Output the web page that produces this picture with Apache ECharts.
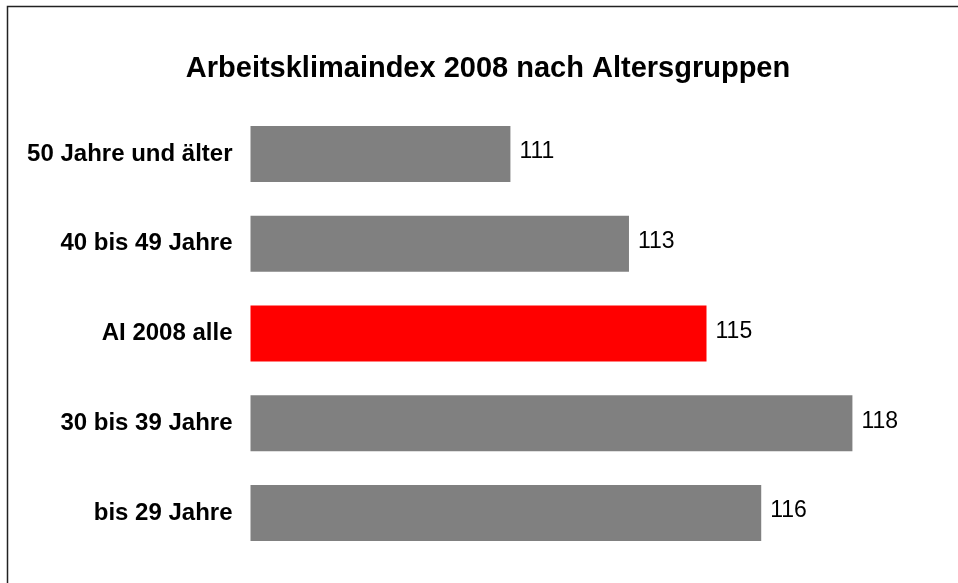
<!DOCTYPE html>
<html>
<head>
<meta charset="utf-8">
<script src="https://cdn.jsdelivr.net/npm/echarts@6/dist/echarts.min.js"></script>
<style>
  html, body { margin: 0; padding: 0; background: #fff; }
  #chart { width: 958px; height: 583px; }
</style>
</head>
<body>
<div id="chart"></div>
<script>
// top to bottom as in the picture
const groups = ['50 Jahre und älter', '40 bis 49 Jahre', 'AI 2008 alle', '30 bis 39 Jahre', 'bis 29 Jahre']
// (labels show rounded values)
const indexValues = [110.7, 113.3, 115.0, 118.2, 116.2]
const highlightGroup = 'AI 2008 alle'

const chart = echarts.init(document.getElementById('chart'))

const option = {
  backgroundColor: '#fff',
  animation: false,
  title: {
    text: 'Arbeitsklimaindex 2008 nach Altersgruppen',
    left: 483,
    textAlign: 'center',
    top: 49,
    textStyle: {
      fontFamily: 'Liberation Sans',
      fontSize: 29,
      fontWeight: 'bold',
      color: '#000'
    }
  },
  graphic: [{
    type: 'rect',
    shape: { x: 7.5, y: 6.5, width: 960, height: 600 },
    style: { fill: 'none', stroke: '#222', lineWidth: 1.5 },
    silent: true
  }],
  grid: {
    left: 250.5,
    right: 23.5,
    top: 109,
    bottom: 25,
    containLabel: false
  },
  xAxis: {
    type: 'value',
    min: 105,
    max: 120,
    show: false
  },
  yAxis: {
    type: 'category',
    data: groups,
    inverse: true,
    axisLine: { show: false },
    axisTick: { show: false },
    axisLabel: {
      margin: 18,
      fontFamily: 'Liberation Sans',
      fontSize: 24,
      fontWeight: 'bold',
      color: '#000',
      padding: [0, 0, 6, 0]
    }
  },
  series: [{
    type: 'bar',
    barWidth: 56,
    data: indexValues.map((v, i) => ({
      value: v,
      itemStyle: { color: groups[i] === highlightGroup ? '#ff0000' : '#808080' }
    })),
    label: {
      show: true,
      position: 'right',
      distance: 9,
      offset: [0, -2],
      formatter: p => Math.round(p.value),
      fontFamily: 'Liberation Sans',
      fontSize: 23,
      color: '#000'
    }
  }]
}

chart.setOption(option)
</script>
</body>
</html>
